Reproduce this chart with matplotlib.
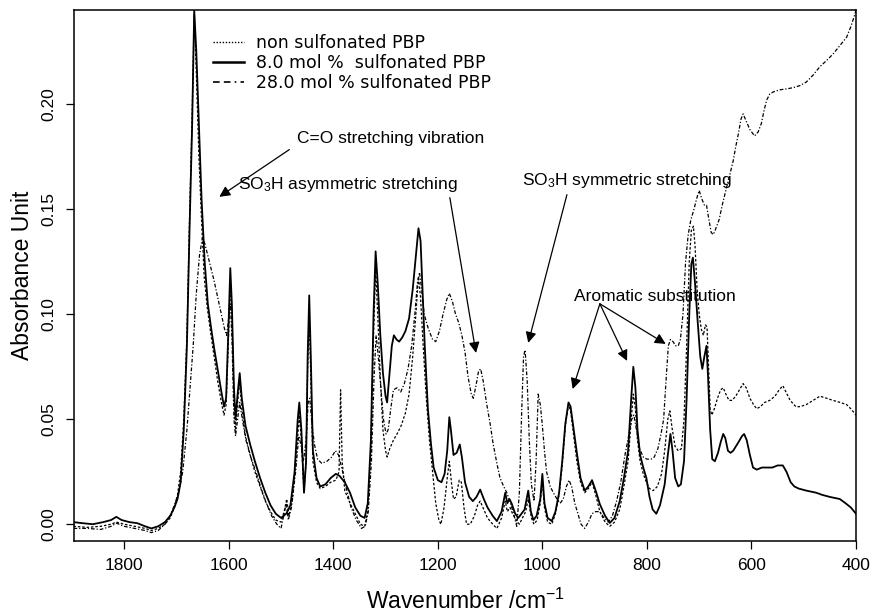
import matplotlib
matplotlib.use("Agg")
import matplotlib.pyplot as plt
from matplotlib import font_manager
from matplotlib.lines import Line2D
from matplotlib.ticker import FormatStrFormatter

# --- 8.0 mol % sulfonated PBP (solid) ---
wn_8 = [1897, 1880, 1860, 1840, 1825, 1815, 1805, 1790, 1775, 1760, 1748, 1735, 1722, 1712, 1704,
        1698, 1692, 1686, 1680, 1675, 1670, 1666, 1662, 1657, 1652, 1646, 1640, 1634, 1628, 1620,
        1614, 1609, 1605, 1601, 1597, 1594, 1590, 1587, 1583, 1579, 1575, 1568, 1559, 1550, 1540,
        1530, 1520, 1510, 1500, 1490, 1482, 1474, 1468, 1465, 1461, 1456, 1452, 1449, 1446, 1443,
        1439, 1432, 1425, 1415, 1405, 1395, 1388, 1378, 1368, 1358, 1348, 1340, 1334, 1328, 1323,
        1319, 1315, 1310, 1305, 1300, 1297, 1293, 1288, 1284, 1279, 1274, 1268, 1262, 1255, 1248,
        1242, 1237, 1233, 1229, 1225, 1219, 1213, 1208, 1200, 1193, 1187, 1182, 1178, 1175, 1170,
        1164, 1158, 1154, 1148, 1140, 1133, 1126, 1119, 1112, 1105, 1095, 1087, 1078, 1071, 1067,
        1063, 1059, 1052, 1046, 1040, 1034, 1027, 1022, 1017, 1011, 1004, 1000, 996, 990, 982,
        975, 968, 962, 956, 950, 946, 940, 934, 927, 919, 912, 905, 898, 890, 880,
        871, 862, 852, 844, 836, 830, 826, 822, 818, 813, 807, 801, 795, 789, 782,
        775, 766, 760, 755, 751, 746, 740, 735, 729, 724, 719, 715, 712, 708, 703,
        698, 694, 690, 686, 683, 679, 675, 670, 664, 659, 654, 650, 645, 640, 635,
        630, 625, 618, 614, 609, 603, 597, 590, 580, 570, 560, 550, 540, 533, 525,
        518, 510, 495, 476, 465, 450, 431, 420, 410, 400]
ab_8 = [0.001, 0.0005, 0.0, 0.001, 0.002, 0.0035, 0.002, 0.001, 0.0005, -0.001, -0.002, -0.001, 0.001, 0.004, 0.008,
        0.012, 0.02, 0.045, 0.085, 0.14, 0.19, 0.245, 0.225, 0.19, 0.155, 0.125, 0.105, 0.094, 0.084, 0.072,
        0.063, 0.056, 0.06, 0.09, 0.122, 0.105, 0.065, 0.05, 0.062, 0.072, 0.06, 0.047, 0.038, 0.03, 0.022,
        0.015, 0.009, 0.005, 0.003, 0.005, 0.009, 0.025, 0.05, 0.058, 0.045, 0.015, 0.03, 0.08, 0.109, 0.08,
        0.035, 0.022, 0.018, 0.019, 0.022, 0.024, 0.023, 0.02, 0.015, 0.008, 0.004, 0.003, 0.01, 0.04, 0.1,
        0.13, 0.115, 0.09, 0.072, 0.061, 0.058, 0.07, 0.085, 0.09, 0.088, 0.087, 0.089, 0.092, 0.098, 0.112,
        0.128, 0.141, 0.135, 0.11, 0.085, 0.055, 0.038, 0.027, 0.021, 0.02, 0.024, 0.035, 0.051, 0.045, 0.033,
        0.034, 0.038, 0.032, 0.02, 0.013, 0.011, 0.013, 0.0165, 0.012, 0.008, 0.004, 0.0015, 0.006, 0.015, 0.01,
        0.012, 0.01, 0.005, 0.003, 0.005, 0.007, 0.016, 0.006, 0.002, 0.004, 0.012, 0.024, 0.01, 0.003, 0.0015,
        0.006, 0.015, 0.03, 0.048, 0.058, 0.056, 0.045, 0.034, 0.022, 0.016, 0.018, 0.021, 0.016, 0.0095, 0.004,
        0.0006, 0.003, 0.011, 0.022, 0.035, 0.06, 0.075, 0.065, 0.045, 0.033, 0.027, 0.022, 0.013, 0.007, 0.005,
        0.009, 0.019, 0.033, 0.043, 0.035, 0.022, 0.018, 0.019, 0.03, 0.06, 0.1, 0.124, 0.127, 0.115, 0.097,
        0.08, 0.074, 0.08, 0.085, 0.07, 0.045, 0.031, 0.03, 0.034, 0.039, 0.043, 0.041, 0.035, 0.034, 0.035,
        0.037, 0.039, 0.042, 0.043, 0.04, 0.033, 0.027, 0.026, 0.027, 0.027, 0.027, 0.028, 0.028, 0.025, 0.02,
        0.018, 0.017, 0.016, 0.015, 0.014, 0.013, 0.012, 0.01, 0.008, 0.005]

# --- non sulfonated PBP (dotted) ---
wn_0 = [1897, 1870, 1845, 1825, 1815, 1800, 1780, 1760, 1748, 1735, 1722, 1712, 1704, 1698, 1692,
        1686, 1680, 1675, 1670, 1666, 1662, 1657, 1652, 1647, 1641, 1635, 1628, 1621, 1614, 1609,
        1605, 1601, 1597, 1594, 1590, 1587, 1583, 1579, 1575, 1568, 1559, 1550, 1540, 1530, 1520,
        1510, 1500, 1494, 1489, 1485, 1478, 1470, 1465, 1461, 1456, 1452, 1449, 1446, 1443, 1439,
        1432, 1425, 1415, 1405, 1395, 1389, 1386, 1383, 1378, 1368, 1358, 1348, 1340, 1334, 1328,
        1323, 1319, 1315, 1310, 1305, 1300, 1297, 1292, 1285, 1278, 1270, 1262, 1255, 1248, 1242,
        1237, 1233, 1228, 1222, 1216, 1210, 1204, 1198, 1194, 1188, 1182, 1178, 1174, 1170, 1165,
        1159, 1155, 1150, 1145, 1138, 1130, 1124, 1119, 1112, 1105, 1095, 1087, 1078, 1071, 1067,
        1062, 1057, 1050, 1044, 1038, 1032, 1027, 1021, 1016, 1010, 1004, 1000, 996, 990, 982,
        975, 968, 962, 956, 950, 946, 940, 934, 927, 919, 912, 905, 898, 890, 880,
        871, 862, 852, 844, 836, 830, 826, 822, 818, 813, 807, 801, 795, 788, 780,
        772, 766, 760, 756, 752, 746, 740, 734, 729, 724, 719, 715, 711, 708, 704,
        700, 696, 692, 688, 685, 682, 679, 676, 671, 665, 659, 654, 649, 643, 637,
        630, 623, 616, 610, 603, 596, 590, 583, 575, 565, 555, 547, 540, 534, 526,
        515, 507, 495, 482, 469, 456, 444, 430, 418, 410, 400]
ab_0 = [-0.001, -0.0015, -0.001, 0.0, 0.001, 0.0, -0.001, -0.002, -0.003, -0.002, 0.0, 0.003, 0.008, 0.014, 0.025,
        0.05, 0.09, 0.145, 0.195, 0.243, 0.215, 0.175, 0.145, 0.118, 0.103, 0.092, 0.08, 0.068, 0.058, 0.052,
        0.057, 0.085, 0.115, 0.1, 0.06, 0.045, 0.058, 0.068, 0.055, 0.042, 0.033, 0.025, 0.018, 0.011, 0.006,
        0.002, 0.001, 0.006, 0.012, 0.004, 0.012, 0.035, 0.052, 0.04, 0.015, 0.03, 0.075, 0.1, 0.07, 0.03,
        0.02, 0.017, 0.018, 0.02, 0.021, 0.025, 0.064, 0.03, 0.016, 0.01, 0.005, 0.0, -0.001, 0.006, 0.035,
        0.09, 0.122, 0.1, 0.07, 0.045, 0.035, 0.032, 0.036, 0.04, 0.043, 0.047, 0.053, 0.062, 0.08, 0.1,
        0.118, 0.108, 0.085, 0.06, 0.04, 0.025, 0.01, 0.002, 0.0, 0.008, 0.022, 0.03, 0.02, 0.012, 0.013,
        0.021, 0.02, 0.008, 0.0, 0.0, 0.004, 0.009, 0.011, 0.007, 0.003, 0.0, -0.002, 0.003, 0.011, 0.006,
        0.008, 0.005, 0.002, 0.0, 0.003, 0.006, 0.012, 0.003, 0.0, 0.002, 0.01, 0.02, 0.008, 0.001, 0.0,
        0.005, 0.014, 0.028, 0.047, 0.057, 0.054, 0.042, 0.03, 0.02, 0.015, 0.017, 0.02, 0.014, 0.006, 0.001,
        -0.001, 0.001, 0.007, 0.018, 0.03, 0.05, 0.062, 0.055, 0.04, 0.03, 0.024, 0.02, 0.017, 0.016, 0.018,
        0.024, 0.035, 0.05, 0.054, 0.046, 0.037, 0.035, 0.036, 0.05, 0.085, 0.125, 0.14, 0.142, 0.133, 0.112,
        0.1, 0.093, 0.09, 0.095, 0.094, 0.075, 0.055, 0.052, 0.055, 0.06, 0.064, 0.065, 0.062, 0.059, 0.059,
        0.061, 0.064, 0.067, 0.065, 0.06, 0.057, 0.055, 0.056, 0.058, 0.059, 0.061, 0.064, 0.066, 0.063, 0.059,
        0.056, 0.056, 0.057, 0.059, 0.061, 0.06, 0.059, 0.058, 0.057, 0.055, 0.052]

# --- 28.0 mol % sulfonated PBP (dash-dot) ---
wn_28 = [1897, 1870, 1845, 1825, 1815, 1800, 1780, 1760, 1748, 1735, 1722, 1712, 1704, 1696, 1688,
         1680, 1674, 1668, 1662, 1656, 1650, 1645, 1640, 1634, 1628, 1621, 1614, 1608, 1604, 1600,
         1597, 1594, 1590, 1587, 1583, 1579, 1574, 1567, 1558, 1548, 1538, 1528, 1518, 1508, 1500,
         1494, 1490, 1486, 1480, 1472, 1466, 1462, 1457, 1452, 1448, 1445, 1441, 1436, 1430, 1422,
         1412, 1403, 1396, 1390, 1383, 1376, 1366, 1356, 1346, 1339, 1333, 1327, 1322, 1318, 1314,
         1309, 1304, 1299, 1295, 1290, 1285, 1278, 1271, 1264, 1257, 1250, 1244, 1239, 1235, 1231,
         1226, 1218, 1210, 1204, 1197, 1190, 1183, 1178, 1172, 1166, 1160, 1154, 1148, 1142, 1136,
         1132, 1127, 1122, 1118, 1113, 1107, 1100, 1094, 1087, 1081, 1074, 1068, 1061, 1055, 1049,
         1044, 1040, 1036, 1033, 1029, 1025, 1021, 1016, 1012, 1008, 1004, 1000, 996, 992, 985,
         979, 972, 966, 960, 954, 949, 944, 938, 932, 926, 919, 912, 905, 898, 890,
         882, 874, 866, 858, 850, 842, 835, 829, 825, 820, 814, 807, 800, 792, 786,
         779, 773, 768, 763, 759, 755, 750, 745, 740, 736, 731, 726, 721, 716, 710,
         705, 700, 695, 690, 686, 682, 677, 673, 668, 662, 655, 648, 641, 635, 630,
         625, 620, 616, 610, 603, 594, 587, 581, 576, 571, 565, 558, 545, 533, 520,
         507, 495, 482, 469, 456, 444, 431, 418, 410, 402, 400]
ab_28 = [-0.002, -0.002, -0.0025, -0.001, 0.0005, -0.001, -0.002, -0.003, -0.004, -0.003, 0.0, 0.004, 0.009, 0.015, 0.025,
         0.045, 0.065, 0.085, 0.11, 0.128, 0.137, 0.133, 0.128, 0.122, 0.116, 0.108, 0.1, 0.093, 0.09, 0.098,
         0.105, 0.09, 0.05, 0.042, 0.05, 0.058, 0.05, 0.04, 0.032, 0.025, 0.017, 0.01, 0.004, 0.0, -0.002,
         0.005, 0.01, 0.002, 0.008, 0.025, 0.042, 0.038, 0.03, 0.04, 0.058, 0.06, 0.048, 0.038, 0.031, 0.029,
         0.03, 0.032, 0.035, 0.033, 0.026, 0.018, 0.008, 0.002, -0.002, -0.001, 0.006, 0.03, 0.07, 0.09, 0.08,
         0.065, 0.05, 0.043, 0.045, 0.055, 0.064, 0.065, 0.063, 0.067, 0.074, 0.085, 0.1, 0.115, 0.12, 0.112,
         0.1, 0.093, 0.088, 0.087, 0.092, 0.1, 0.107, 0.11, 0.106, 0.1, 0.096, 0.09, 0.082, 0.07, 0.062,
         0.06, 0.066, 0.073, 0.074, 0.068, 0.058, 0.048, 0.038, 0.029, 0.022, 0.018, 0.015, 0.01, 0.005, -0.001,
         0.015, 0.05, 0.08, 0.083, 0.068, 0.04, 0.019, 0.011, 0.03, 0.062, 0.057, 0.047, 0.035, 0.025, 0.018,
         0.015, 0.012, 0.01, 0.012, 0.018, 0.021, 0.018, 0.01, 0.005, 0.0, -0.002, 0.001, 0.005, 0.006, 0.006,
         0.003, 0.001, 0.004, 0.011, 0.02, 0.033, 0.042, 0.05, 0.052, 0.045, 0.036, 0.032, 0.031, 0.031, 0.032,
         0.036, 0.043, 0.05, 0.07, 0.085, 0.088, 0.087, 0.085, 0.085, 0.088, 0.1, 0.125, 0.138, 0.145, 0.15,
         0.155, 0.159, 0.155, 0.152, 0.152, 0.146, 0.139, 0.138, 0.141, 0.145, 0.153, 0.16, 0.167, 0.173, 0.18,
         0.186, 0.193, 0.1955, 0.192, 0.188, 0.185, 0.187, 0.191, 0.197, 0.202, 0.205, 0.206, 0.207, 0.2074, 0.208,
         0.209, 0.2107, 0.214, 0.218, 0.221, 0.224, 0.228, 0.232, 0.237, 0.243, 0.245]

labels = ["non sulfonated PBP", "8.0 mol %  sulfonated PBP", "28.0 mol % sulfonated PBP"]
x_ticks = [1800, 1600, 1400, 1200, 1000, 800, 600, 400]
y_ticks = [0.00, 0.05, 0.10, 0.15, 0.20]

names = {f.name for f in font_manager.fontManager.ttflist}
if "Liberation Sans Narrow" in names:
    axis_font, tick_size, label_size = "Liberation Sans Narrow", 15, 19
else:
    axis_font, tick_size, label_size = "Liberation Sans", 12.5, 16.5
plt.rcParams["mathtext.default"] = "regular"

fig = plt.figure(figsize=(8.73, 6.16), dpi=100)
ax = fig.add_axes([74 / 873, 1 - 541 / 616, 782 / 873, 531 / 616])

ax.plot(wn_0, ab_0, color="black", lw=0.9, ls=(0, (2, 1.5)))
ax.plot(wn_28, ab_28, color="black", lw=0.9, ls=(0, (3, 1.5, 1, 1.5)))
ax.plot(wn_8, ab_8, color="black", lw=1.3, ls="-")

ax.set_xlim(1896, 400)
ax.set_ylim(-0.008, 0.245)
ax.set_xticks(x_ticks)
ax.set_yticks(y_ticks)
ax.yaxis.set_major_formatter(FormatStrFormatter("%.2f"))
ax.tick_params(direction="out", length=6, width=0.9, pad=6, labelsize=tick_size)
ax.tick_params(axis="y", labelrotation=90, pad=7)
for lbl in ax.get_xticklabels() + ax.get_yticklabels():
    lbl.set_fontfamily(axis_font)
for lbl in ax.get_yticklabels():
    lbl.set_va("center")
for s in ax.spines.values():
    s.set_linewidth(1.1)

ax.set_xlabel("Wavenumber /cm$^{-1}$", fontsize=label_size, fontfamily=axis_font, va="center")
ax.set_ylabel("Absorbance Unit", fontsize=label_size, fontfamily=axis_font, va="center")
ax.xaxis.set_label_coords(0.5, -60 / 531)
ax.yaxis.set_label_coords(-51 / 782, 0.5)

handles = [Line2D([], [], color="black", lw=1.0, ls=(0, (1, 1.2))),
           Line2D([], [], color="black", lw=1.8, ls="-"),
           Line2D([], [], color="black", lw=1.2, ls=(0, (4, 2.5, 4, 2.5, 1, 2.5)))]
ax.legend(handles, labels, loc="upper left", bbox_to_anchor=(139 / 782, 1 - 24 / 531),
          frameon=False, borderaxespad=0, borderpad=0, handlelength=1.8, handletextpad=0.65,
          labelspacing=0.12, prop={"family": "DejaVu Sans", "size": 12.5})

ann = dict(fontsize=12.5, fontfamily="Liberation Sans", va="center", ha="left")
arrow = dict(arrowstyle="-|>", color="black", lw=0.9, mutation_scale=16, shrinkA=0, shrinkB=0)

ax.text(1470, 0.184, "C=O stretching vibration", **ann)
ax.annotate("", xy=(1618, 0.156), xytext=(1484, 0.1785), arrowprops=arrow)

ax.text(1582, 0.162, "SO$_3$H asymmetric stretching", **ann)
ax.annotate("", xy=(1127, 0.0816), xytext=(1177, 0.1556), arrowprops=arrow)

ax.text(1039, 0.1637, "SO$_3$H symmetric stretching", **ann)
ax.annotate("", xy=(1027, 0.0864), xytext=(953, 0.157), arrowprops=arrow)

ax.text(940, 0.1084, "Aromatic substitution", **ann)
for tip in [(942, 0.0644), (838, 0.0778), (764, 0.0859)]:
    ax.annotate("", xy=tip, xytext=(890, 0.105), arrowprops=arrow)

fig.savefig("out.png", dpi=100)
